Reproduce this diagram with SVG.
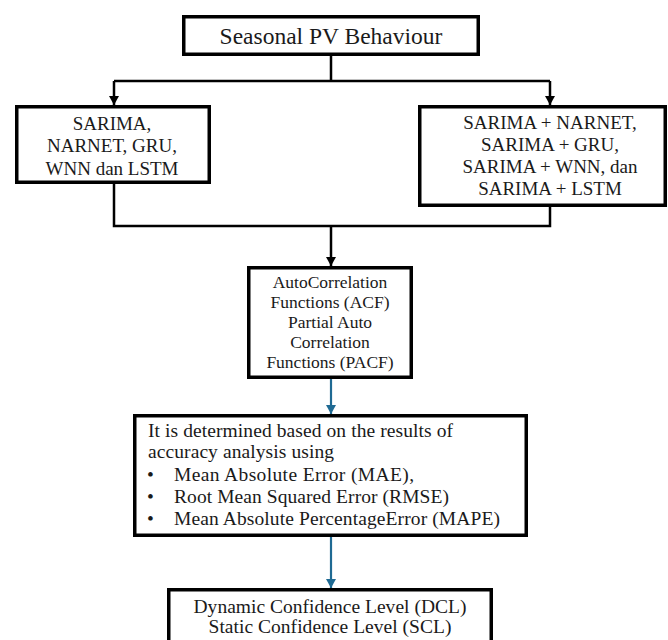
<svg xmlns="http://www.w3.org/2000/svg" width="668" height="640" viewBox="0 0 668 640">
<style>
.box{fill:#fff;stroke:#000;stroke-width:3.5}
.t{font-family:"Liberation Serif","Times New Roman",serif;fill:#1a1a1a;text-anchor:middle}
.l{font-family:"Liberation Serif","Times New Roman",serif;fill:#1a1a1a;font-size:19.5px}
.k{fill:none;stroke:#000;stroke-width:2.5}
.b{fill:none;stroke:#1f6a93;stroke-width:2.2}
</style>
<defs>
<marker id="ak" markerUnits="userSpaceOnUse" markerWidth="12" markerHeight="12" viewBox="0 0 12 12" refX="11" refY="6" orient="auto">
<path d="M2,1 L11,6 L2,11 Z" fill="#000"/>
</marker>
<marker id="ab" markerUnits="userSpaceOnUse" markerWidth="12" markerHeight="12" viewBox="0 0 12 12" refX="11" refY="6" orient="auto">
<path d="M2,1 L11,6 L2,11 Z" fill="#1f6a93"/>
</marker>
</defs>
<rect width="668" height="640" fill="#fff"/>
<g id="connectors">
<path class="k" d="M331,56 V81 M114,81 H550"/>
<path class="k" d="M114,81 V105" marker-end="url(#ak)"/>
<path class="k" d="M550,81 V105" marker-end="url(#ak)"/>
<path class="k" d="M114,184 V226 H550 V207"/>
<path class="k" d="M331,226 V266" marker-end="url(#ak)"/>
<path class="b" d="M331,379 V414" marker-end="url(#ab)"/>
<path class="b" d="M331,537 V588" marker-end="url(#ab)"/>
</g>
<g id="seasonal">
<rect class="box" x="183.75" y="16.75" width="294.5" height="37.5"/>
<text class="t" x="331" y="44" font-size="23.5">Seasonal PV Behaviour</text>
</g>
<g id="single-models">
<rect class="box" x="16.75" y="106.75" width="192.5" height="75.5"/>
<text class="t" font-size="19" x="112" y="129.5">SARIMA,</text>
<text class="t" font-size="19" x="112" y="152">NARNET, GRU,</text>
<text class="t" font-size="19" x="112" y="174.5">WNN dan LSTM</text>
</g>
<g id="hybrid-models">
<rect class="box" x="419.75" y="106.75" width="245.5" height="98.5"/>
<text class="t" font-size="19" x="550" y="129">SARIMA + NARNET,</text>
<text class="t" font-size="19" x="550" y="151">SARIMA + GRU,</text>
<text class="t" font-size="19" x="550" y="173">SARIMA + WNN, dan</text>
<text class="t" font-size="19" x="550" y="195">SARIMA + LSTM</text>
</g>
<g id="acf-pacf">
<rect class="box" x="248.75" y="267.75" width="162.5" height="109.5"/>
<text class="t" font-size="17.5" x="330" y="288">AutoCorrelation</text>
<text class="t" font-size="17.5" x="330" y="308">Functions (ACF)</text>
<text class="t" font-size="17.5" x="330" y="328">Partial Auto</text>
<text class="t" font-size="17.5" x="330" y="348">Correlation</text>
<text class="t" font-size="17.5" x="330" y="368">Functions (PACF)</text>
</g>
<g id="accuracy">
<rect class="box" x="134.75" y="415.75" width="391.5" height="119.5"/>
<text class="l" x="148" y="437" textLength="305">It is determined based on the results of</text>
<text class="l" x="148" y="458" textLength="186">accuracy analysis using</text>
<text class="l" x="147" y="481">•</text>
<text class="l" x="174" y="481" textLength="240">Mean Absolute Error (MAE),</text>
<text class="l" x="147" y="503">•</text>
<text class="l" x="174" y="503" textLength="275">Root Mean Squared Error (RMSE)</text>
<text class="l" x="147" y="525">•</text>
<text class="l" x="174" y="525" textLength="326">Mean Absolute PercentageError (MAPE)</text>
</g>
<g id="confidence">
<rect class="box" x="168.75" y="589.75" width="322.5" height="80"/>
<text class="t" font-size="19.5" x="330" y="613" textLength="273">Dynamic Confidence Level (DCL)</text>
<text class="t" font-size="19.5" x="330" y="633" textLength="243">Static Confidence Level (SCL)</text>
</g>
</svg>
